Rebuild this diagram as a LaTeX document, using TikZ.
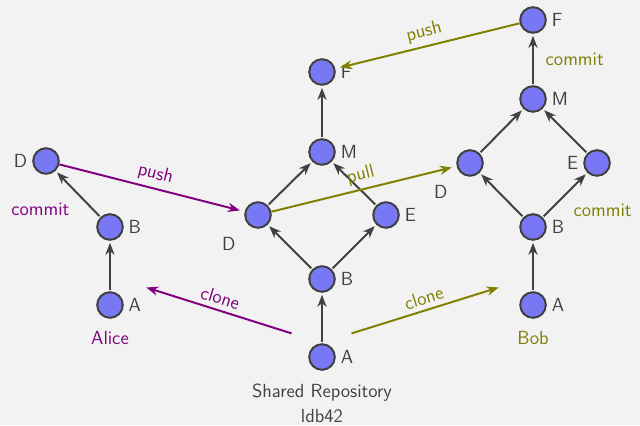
\documentclass[tikz,border=0pt]{standalone}
\usetikzlibrary{arrows.meta,
                    positioning}
\definecolor{nodeblue}{RGB}{120,120,245}
\definecolor{edgegray}{RGB}{64,64,64}
\definecolor{bggray}{RGB}{242,242,242}
\definecolor{alicecol}{RGB}{128,0,128}
\definecolor{bobcol}{RGB}{128,128,0}

\begin{document}
\begin{tikzpicture}[
node distance= 1.95cm and 1.6cm, on grid,
             font = \fontsize{13.5}{17.8}\selectfont\sffamily,
every label/.style = {text=edgegray},
      rev/.style = {circle, draw=edgegray, line width=1.4pt, fill=nodeblue,
                    minimum size=6.4mm, inner sep=0pt,
                    label distance=2.3mm},
     link/.style = {-{Stealth[length=3mm, width=2.3mm]}, draw=edgegray,
                    line width=1.4pt, shorten <=1pt, shorten >=1.5pt},
     sync/.style = {-{Stealth[length=3mm, width=2.3mm]}, line width=1.4pt,
                    shorten >=3.5pt},
    owner/.style = {inner sep=0pt}
                    ]
\fill[bggray] (-8.05,-1.7) rectangle (7.95,8.925);
 % shared repository
\node (sA) [rev, label=right:A] {};
\node (sB) [rev, above=of sA, label=right:B] {};
\node (sD) [rev, above left=1.6 and 1.6 of sB,
            label={[label distance=2.8mm]below left:D}] {};
\node (sE) [rev, above right=1.6 and 1.6 of sB, label=right:E] {};
\node (sM) [rev, above right=1.575 and 1.6 of sD, label=right:M] {};
\node (sF) [rev, above=2 of sM, label=right:F] {};
\node (repo) [owner, below=1.16 of sA, text=edgegray, align=center]
             {Shared Repository\\ldb42};
% Alice
\node (aA) [rev, label=right:A] at (-5.3,1.3) {};
\node (aB) [rev, above=of aA, label=right:B] {};
\node (aD) [rev, above left=1.65 and 1.6 of aB, label=left:D] {};
\node (alice) [owner, below=0.83 of aA, text=alicecol] {Alice};
% Bob
\node (bA) [rev, label=right:A] at (5.275,1.3) {};
\node (bB) [rev, above=of bA, label=right:B] {};
\node (bD) [rev, above left=1.6 and 1.575 of bB,
            label={[label distance=2.8mm]below left:D}] {};
\node (bE) [rev, above right=1.6 and 1.6 of bB, label=left:E] {};
\node (bM) [rev, above right=1.6 and 1.575 of bD, label=right:M] {};
\node (bF) [rev, above=1.975 of bM, label=right:F] {};
\node (bob) [owner, below=0.83 of bA, text=bobcol] {Bob};
% coordinates
\coordinate[above left=0.59 and 0.76 of sA]   (cloneA);
\coordinate[above right=0.59 and 0.74 of sA]  (cloneB);
\coordinate[above right=0.475 and 0.79 of aA] (intoA);
\coordinate[above left=0.475 and 0.74 of bA]  (intoB);

\draw[link] (sA) -- (sB);
\draw[link] (sB) -- (sD);
\draw[link] (sB) -- (sE);
\draw[link] (sD) -- (sM);
\draw[link] (sE) -- (sM);
\draw[link] (sM) -- (sF);
%
\draw[link] (aA) -- (aB);
\draw[link] (aB) -- node[below left=3pt, text=alicecol] (aCommit) {commit} (aD);
%
\draw[link] (bA) -- (bB);
\draw[link] (bB) -- (bD);
\draw[link] (bB) -- node[below right=3pt, text=bobcol] (bCommit1) {commit} (bE);
\draw[link] (bD) -- (bM);
\draw[link] (bE) -- (bM);
\draw[link] (bM) -- node[right=5pt, text=bobcol] (bCommit2) {commit} (bF);
% push, pull and clone
\draw[sync, alicecol] (cloneA) -- node[above, sloped] (aClone) {clone} (intoA);
\draw[sync, alicecol] (aD) -- node[above, sloped] (aPush) {push} (sD);
\draw[sync, bobcol] (cloneB) -- node[above, sloped] (bClone) {clone} (intoB);
\draw[sync, bobcol] (sD) -- node[above, sloped] (bPull) {pull} (bD);
\draw[sync, bobcol] (bF) -- node[above, sloped] (bPush) {push} (sF);
\end{tikzpicture}
\end{document}
